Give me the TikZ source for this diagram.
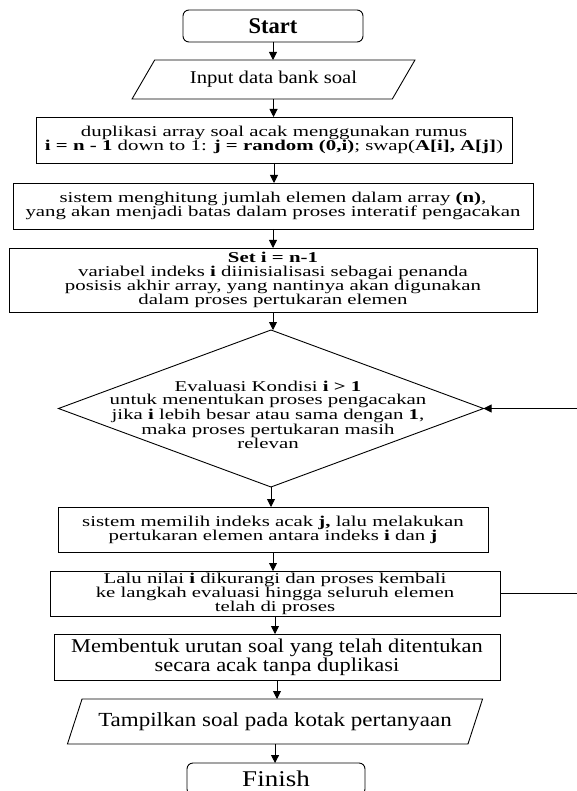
\documentclass[tikz,border=0pt]{standalone}
\usepackage{fontspec}
\setmainfont{Liberation Serif}
\newfontfamily\bodyfont{Liberation Serif}[FakeStretch=1.39]
\newfontfamily\bigfont{Liberation Serif}[FakeStretch=1.15]
\newfontfamily\finfont{Liberation Serif}[FakeStretch=1.2]
\usetikzlibrary{shapes.geometric,arrows.meta}
\begin{document}
\begin{tikzpicture}[x=1pt,y=-1pt,
  every node/.style={inner sep=0pt, outer sep=0pt},
  base/.style={draw, line width=0.9pt},
  bodytext/.style={align=center, font=\bodyfont\fontsize{15}{14}\selectfont},
  procbox/.style={base, rectangle, bodytext},
  termbox/.style={base, rectangle, rounded corners=6pt},
  iobox/.style={base, trapezium, trapezium stretches=true},
  flow/.style={line width=0.9pt, -{Triangle[length=8pt,width=8pt]}},
]
\useasboundingbox (0,0) rectangle (576,791);
\fill[white] (0,0) rectangle (576,791);

\node[termbox, minimum width=180, minimum height=32,
  font=\bfseries\fontsize{22.5}{24}\selectfont] (start) at (273,26) {Start};

\node[iobox, trapezium left angle=45.7, trapezium right angle=134.3,
  minimum width=283, minimum height=39,
  font=\bigfont\fontsize{18}{20}\selectfont] (input) at (273.5,79.5) {Input data bank soal};

\node[procbox, minimum width=476, minimum height=46] (b1) at (274,140)
  {duplikasi array soal acak menggunakan rumus\\
   \textbf{i = n - 1} down to 1: \textbf{j = random (0,i)}; swap(\textbf{A[i], A[j]})};

\node[procbox, minimum width=520, minimum height=46] (b2) at (273,206)
  {sistem menghitung jumlah elemen dalam array \textbf{(n)},\\
   yang akan menjadi batas dalam proses interatif pengacakan};

\node[procbox, minimum width=528, minimum height=64] (b3) at (273,280)
  {\textbf{Set i = n-1}\\
   variabel indeks \textbf{i} diinisialisasi sebagai penanda\\
   posisis akhir array, yang nantinya akan digunakan\\
   dalam proses pertukaran elemen};

\node[base, diamond, minimum width=425, minimum height=157] (cond) at (271,408.5) {};
\node[bodytext, font=\bodyfont\fontsize{15}{13.6}\selectfont] (condtext) at (268,415)
  {Evaluasi Kondisi \textbf{i > 1}\\
   untuk menentukan proses pengacakan\\
   jika \textbf{i} lebih besar atau sama dengan \textbf{1},\\
   maka proses pertukaran masih\\
   relevan};

\node[procbox, minimum width=430, minimum height=45] (b4) at (273,529.5)
  {sistem memilih indeks acak \textbf{j,} lalu melakukan\\
   pertukaran elemen antara indeks \textbf{i} dan \textbf{j}};

\node[procbox, minimum width=450, minimum height=45] (b5) at (275,593.5)
  {Lalu nilai \textbf{i} dikurangi dan proses kembali\\
   ke langkah evaluasi hingga seluruh elemen\\
   telah di proses};

\node[base, rectangle, align=center, minimum width=446, minimum height=46,
  font=\bigfont\fontsize{19.5}{14}\selectfont] (b6) at (277,657)
  {Membentuk urutan soal yang telah ditentukan\\
   secara acak tanpa duplikasi};

\node[iobox, trapezium left angle=53.7, trapezium right angle=126.3,
  minimum width=416, minimum height=45,
  font=\bigfont\fontsize{20}{22}\selectfont] (tampil) at (275,721.5)
  {Tampilkan soal pada kotak pertanyaan};

\node[termbox, minimum width=178, minimum height=32,
  font=\finfont\fontsize{22.5}{24}\selectfont] (finish) at (276,779) {Finish};

\draw[flow] (start.south) -- (start.south |- input.north);
\draw[flow] (input.south) -- (input.south |- b1.north);
\draw[flow] (b1.south) -- (b1.south |- b2.north);
\draw[flow] (b2.south) -- (b2.south |- b3.north);
\draw[flow] (b3.south) -- (b3.south |- cond.north);
\draw[flow] (cond.south) -- (cond.south |- b4.north);
\draw[flow] (b4.south) -- (b4.south |- b5.north);
\draw[flow] (b5.south) -- (b5.south |- b6.north);
\draw[flow] (b6.south) -- (b6.south |- tampil.north);
\draw[flow] (tampil.south) -- (tampil.south |- finish.north);

\coordinate (fbR) at (590,593.5);
\draw[flow] (b5.east) -- (b5.east -| fbR) |- (cond.east);
\end{tikzpicture}
\end{document}
